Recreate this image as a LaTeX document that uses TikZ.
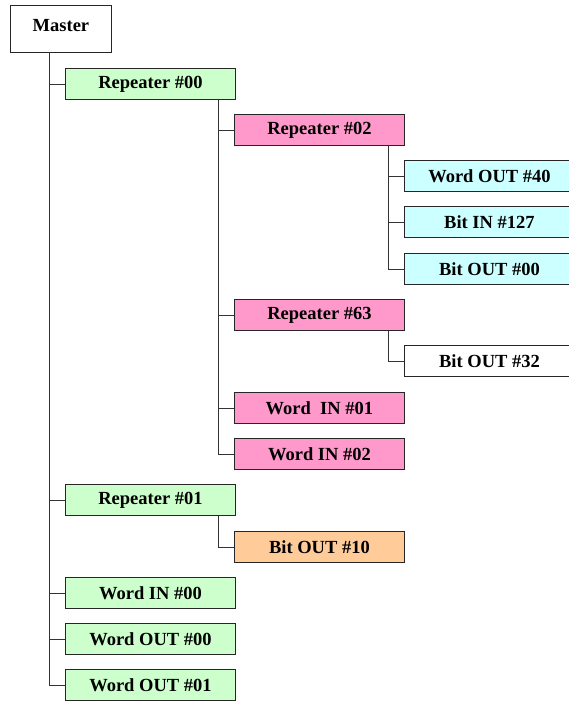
\documentclass[tikz,border=0pt]{standalone}
\usepackage{fontspec}
\setmainfont{Liberation Serif}
\definecolor{cgreen}{HTML}{CCFFCC}
\definecolor{cpink}{HTML}{FF99CC}
\definecolor{ccyan}{HTML}{CCFFFF}
\definecolor{corange}{HTML}{FFCC99}
\definecolor{cline}{HTML}{333333}
\begin{document}
\begin{tikzpicture}[x=1pt,y=-1pt,
  box/.style={draw=black!85,line width=0.9pt,minimum width=170pt,minimum height=31pt,inner sep=0pt,font=\bfseries\fontsize{18.5}{20}\selectfont,anchor=west},
  conn/.style={draw=cline,line width=1pt}]
\useasboundingbox (0,0) rectangle (569,702);
\clip (0,0) rectangle (569,702);
\node[box,minimum width=101pt,minimum height=47pt,anchor=north west,text height=26pt,text depth=21pt] (master) at (10,5) {Master};
% level 1
\node[box,fill=cgreen] (r00) at (65,84) {Repeater \#00};
\node[box,fill=cgreen] (r01) at (65,500) {Repeater \#01};
\node[box,fill=cgreen] (wi00) at (65,593) {Word IN \#00};
\node[box,fill=cgreen] (wo00) at (65,639) {Word OUT \#00};
\node[box,fill=cgreen] (wo01) at (65,685) {Word OUT \#01};
% level 2
\node[box,fill=cpink] (r02) at (234,130) {Repeater \#02};
\node[box,fill=cpink] (r63) at (234,315) {Repeater \#63};
\node[box,fill=cpink] (wi01) at (234,408) {Word\ \ IN \#01};
\node[box,fill=cpink] (wi02) at (234,454) {Word IN \#02};
\node[box,fill=corange] (bo10) at (234,547) {Bit OUT \#10};
% level 3
\node[box,fill=ccyan] (wo40) at (404,176) {Word OUT \#40};
\node[box,fill=ccyan] (bi127) at (404,222) {Bit IN \#127};
\node[box,fill=ccyan] (bo00) at (404,269) {Bit OUT \#00};
\node[box,fill=white] (bo32) at (404,361) {Bit OUT \#32};
% connectors
\coordinate (m0) at (49,52);
\draw[conn] (m0) |- (wo01.west);
\foreach \n in {r00,r01,wi00,wo00}{\draw[conn] (49,0 |- \n.west) -- (\n.west);}
\coordinate (a0) at (218,98.5);
\draw[conn] (a0) |- (wi02.west);
\foreach \n in {r02,r63,wi01}{\draw[conn] (218,0 |- \n.west) -- (\n.west);}
\coordinate (b0) at (388,145.5);
\draw[conn] (b0) |- (bo00.west);
\foreach \n in {wo40,bi127}{\draw[conn] (388,0 |- \n.west) -- (\n.west);}
\coordinate (c0) at (388,330.5);
\draw[conn] (c0) |- (bo32.west);
\coordinate (d0) at (218,515.5);
\draw[conn] (d0) |- (bo10.west);
\end{tikzpicture}
\end{document}
